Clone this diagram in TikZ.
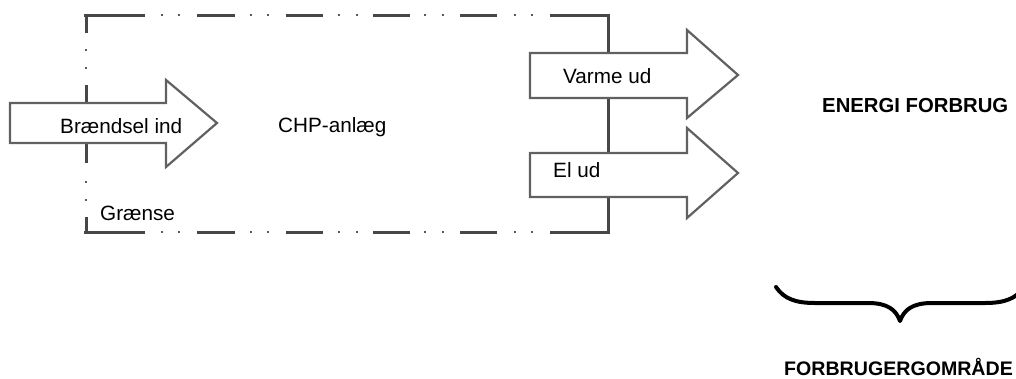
\documentclass[tikz,border=0pt]{standalone}
\usepackage{fontspec}
\setmainfont{Liberation Sans}
\begin{document}
\begin{tikzpicture}[x=1pt,y=-1pt,
  bound/.style={draw=black!72,line width=3pt},
  bdot/.style={draw=black!65,line width=2.5pt},
  blockarrow/.style={draw=black!62,line width=2.2pt,fill=white,line join=miter},
  lbl/.style={anchor=base west,inner sep=0pt,font=\fontsize{20.7}{24}\selectfont},
  blbl/.style={anchor=base west,inner sep=0pt,font=\fontsize{20.3}{24}\selectfont\bfseries},
  brace/.style={draw=black,line width=4pt,line cap=round,line join=round}]
\useasboundingbox (0,0) rectangle (1016,378);
% boundary (Grænse) - dash-dot-dot line
\foreach \a/\b in {84/145,197/235,286/323,373/410,460/497,550/609}{
  \draw[bound] (\a,15) -- (\b,15);
  \draw[bound] (\a,232) -- (\b,232);
}
\foreach \d in {162,179,251,268,339,357,425,443,515,532}{
  \draw[bdot] (\d-1,15) -- (\d+1,15);
  \draw[bdot] (\d-1,232) -- (\d+1,232);
}
\draw[bound] (86,13.5) -- (86,33);
\draw[bound] (86,85) -- (86,163);
\draw[bound] (86,217) -- (86,233.5);
\foreach \d in {50,68,182,200}{
  \draw[bdot] (86,\d-1) -- (86,\d+1);
}
\draw[bound] (608,13.5) -- (608,233.5);
% block arrows
\draw[blockarrow] (10,103) -- (166,103) -- (166,80) -- (217,123) -- (166,167) -- (166,143) -- (10,143) -- cycle;
\draw[blockarrow] (530,53) -- (687,53) -- (687,30) -- (738,75) -- (687,118) -- (687,98) -- (530,98) -- cycle;
\draw[blockarrow] (530,153) -- (687,153) -- (687,128) -- (738,173) -- (687,218) -- (687,197) -- (530,197) -- cycle;
% labels
\node[lbl] (fuel) at (60,133) {Brændsel ind};
\node[lbl] (chp) at (278,132) {CHP-anlæg};
\node[lbl] (heat) at (563,83) {Varme ud};
\node[lbl] (el) at (553,177) {El ud};
\node[lbl] (border) at (100,220) {Grænse};
\node[blbl] (cons) at (822,112) {ENERGI FORBRUG};
\node[anchor=base west,inner sep=0pt,font=\fontsize{19.6}{24}\selectfont\bfseries] (area) at (784,375) {FORBRUGERGOMRÅDE};
% brace
\draw[brace] (776,287) .. controls (784,299) and (796,303) .. (815,303) -- (868,303)
  .. controls (888,303) and (896,310) .. (900,321)
  .. controls (904,310) and (912,303) .. (932,303) -- (985,303)
  .. controls (1004,303) and (1016,299) .. (1024,287);
\end{tikzpicture}
\end{document}
